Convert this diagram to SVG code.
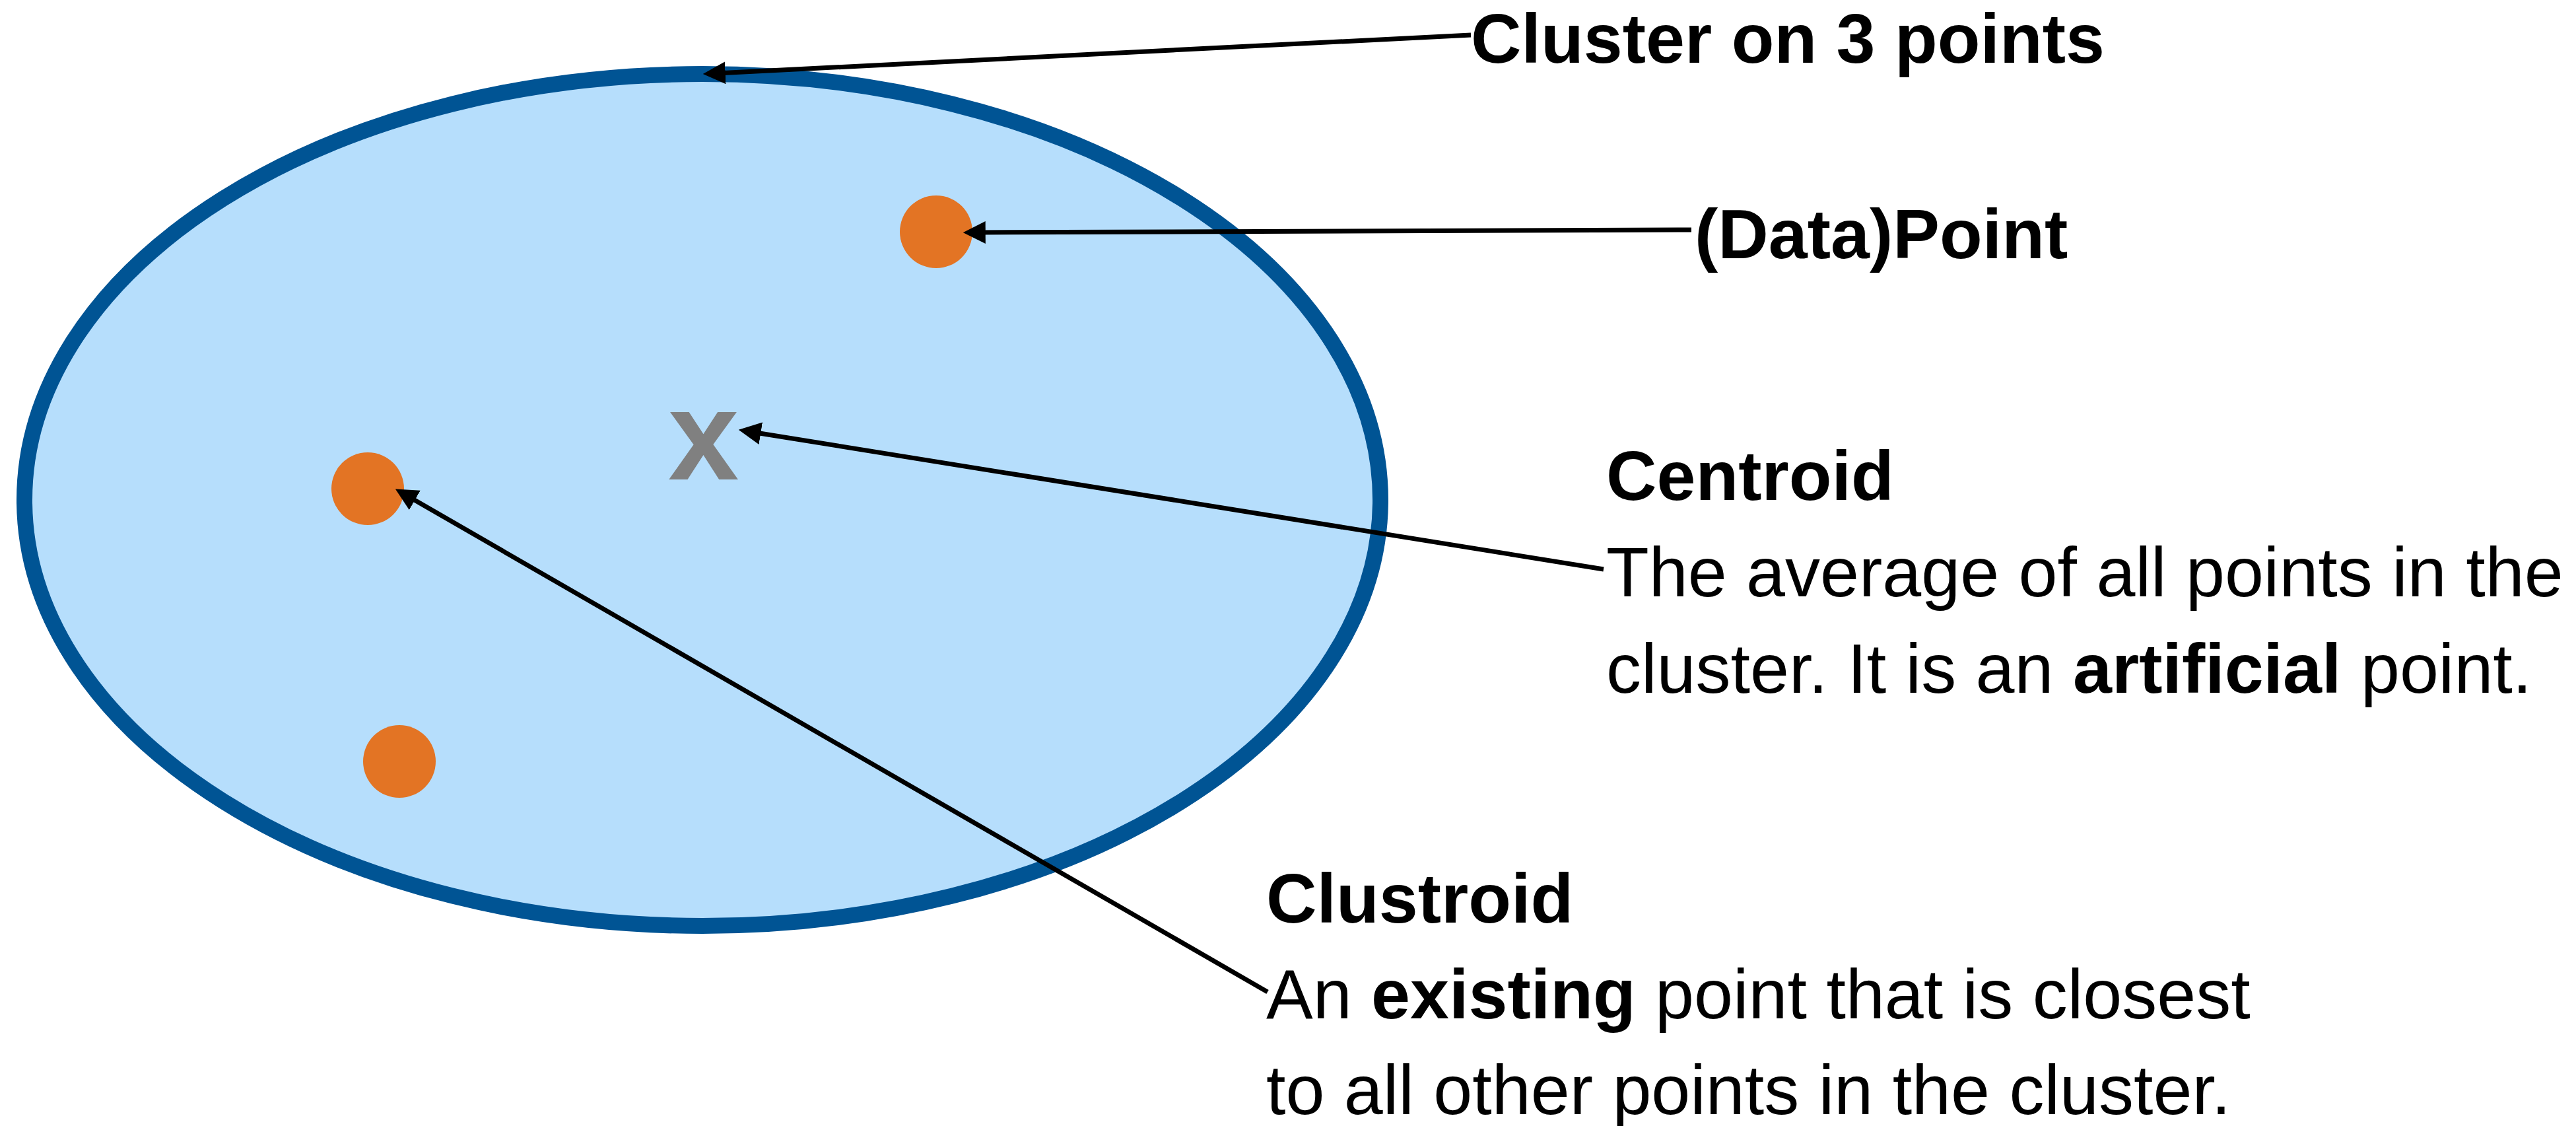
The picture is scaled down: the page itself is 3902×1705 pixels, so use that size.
<svg xmlns="http://www.w3.org/2000/svg" width="3902" height="1705" viewBox="0 0 3902 1705">
<style>
.t{font-family:"Liberation Sans",Arial,sans-serif;font-size:106px;fill:#000}
.b{font-weight:bold}
.pt{fill:#E37424}
.con{stroke:#000;stroke-width:7;fill:none;marker-end:url(#ah)}
</style>
<defs>
<marker id="ah" markerUnits="userSpaceOnUse" markerWidth="34" markerHeight="34" refX="12" refY="16" orient="auto" viewBox="0 0 32 32">
<path d="M0,0 L32,16 L0,32 Z" fill="#000"/>
</marker>
</defs>
<rect width="3902" height="1705" fill="#fff"/>
<g id="cluster">
<ellipse cx="1064" cy="757" rx="1027" ry="645" fill="#B6DEFC" stroke="#005494" stroke-width="24"/>
</g>
<g id="point1"><circle class="pt" cx="1418" cy="351" r="55"/></g>
<g id="point2"><circle class="pt" cx="557" cy="740" r="55"/></g>
<g id="point3"><circle class="pt" cx="605" cy="1153" r="55"/></g>
<g id="centroid-mark"><text x="1012" y="726" style="font-family:'Liberation Sans',Arial,sans-serif;font-weight:bold;font-size:193px;fill:#808080">x</text></g>
<g id="label-cluster"><text class="t b" x="2228" y="95">Cluster on 3 points</text></g>
<g id="label-point"><text class="t b" x="2567" y="391">(Data)Point</text></g>
<g id="label-centroid">
<text class="t b" x="2433" y="757">Centroid</text>
<text class="t" x="2433" y="903">The average of all points in the</text>
<text class="t" x="2433" y="1049">cluster. It is an <tspan class="b">artificial</tspan> point.</text>
</g>
<g id="label-clustroid">
<text class="t b" x="1918" y="1397">Clustroid</text>
<text class="t" x="1918" y="1542">An <tspan class="b">existing</tspan> point that is closest</text>
<text class="t" x="1918" y="1687">to all other points in the cluster.</text>
</g>
<g id="connectors">
<line class="con" x1="2228" y1="53" x2="1086" y2="111"/>
<line class="con" x1="2562" y1="348" x2="1480" y2="352"/>
<line class="con" x1="2429" y1="862" x2="1139.7" y2="654.2"/>
<line class="con" x1="1920" y1="1502" x2="617.3" y2="751"/>
</g>
</svg>
